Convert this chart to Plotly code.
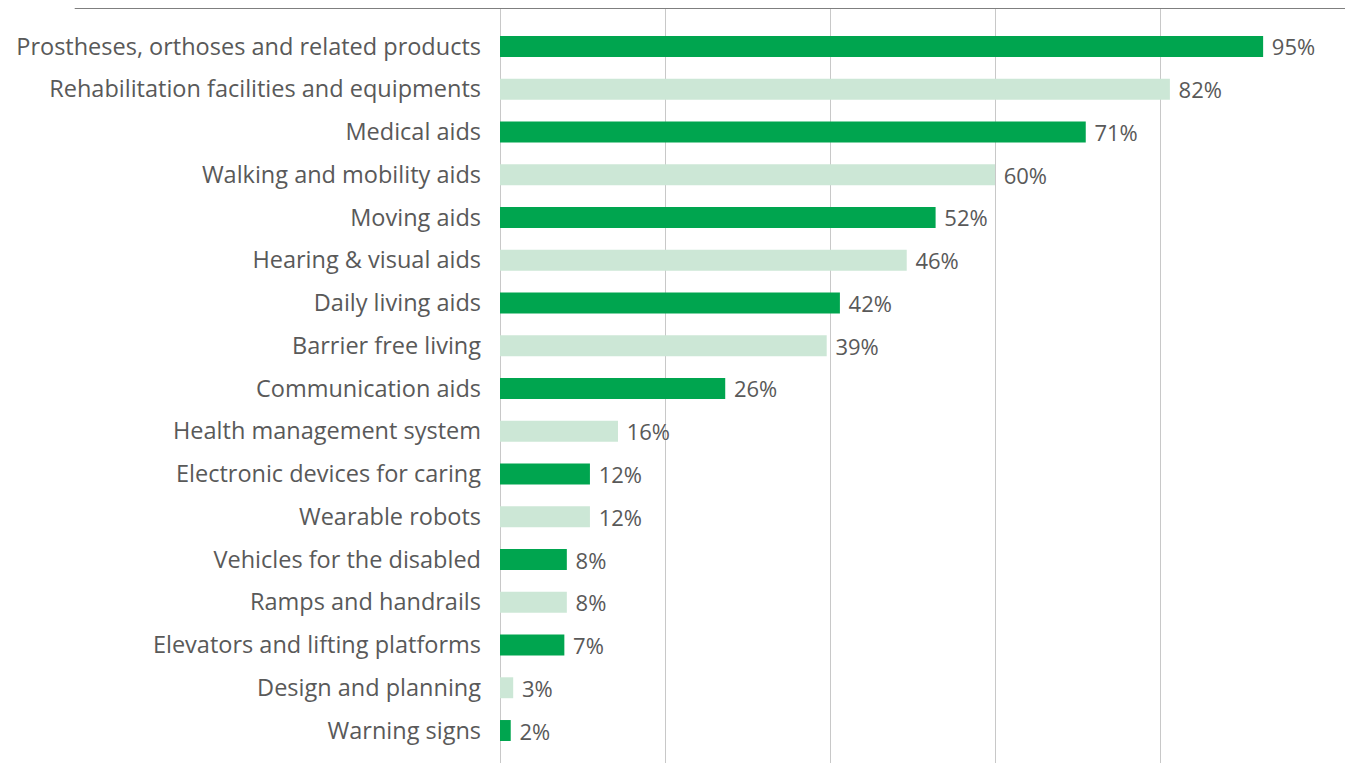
import plotly.graph_objects as go

categories = [
    "Prostheses, orthoses and related products",
    "Rehabilitation facilities and equipments",
    "Medical aids",
    "Walking and mobility aids",
    "Moving aids",
    "Hearing & visual aids",
    "Daily living aids",
    "Barrier free living",
    "Communication aids",
    "Health management system",
    "Electronic devices for caring",
    "Wearable robots",
    "Vehicles for the disabled",
    "Ramps and handrails",
    "Elevators and lifting platforms",
    "Design and planning",
    "Warning signs",
]
# bar lengths as drawn (percent scale)
bar_values = [92.5, 81.2, 71.0, 60.0, 52.8, 49.3, 41.2, 39.6, 27.3, 14.3, 10.9, 10.9, 8.1, 8.1, 7.8, 1.6, 1.3]
# printed labels
value_labels = ["95%", "82%", "71%", "60%", "52%", "46%", "42%", "39%", "26%", "16%",
                "12%", "12%", "8%", "8%", "7%", "3%", "2%"]

DARK = "#00A54F"
LIGHT = "#CCE7D6"
colors = [DARK if i % 2 == 0 else LIGHT for i in range(len(categories))]

fig = go.Figure(
    go.Bar(
        x=bar_values,
        y=categories,
        orientation="h",
        marker=dict(color=colors, line=dict(width=0)),
        text=[" " + t for t in value_labels],
        textposition="outside",
        constraintext="none",
        textfont=dict(family="Open Sans", size=22, color="#595959"),
        outsidetextfont=dict(family="Open Sans", size=22, color="#595959"),
        cliponaxis=False,
        hoverinfo="skip",
    )
)

fig.update_layout(
    width=1345,
    height=755,
    margin=dict(l=492, r=61, t=0, b=0),
    paper_bgcolor="white",
    plot_bgcolor="white",
    bargap=0.51,
    showlegend=False,
    font=dict(family="Open Sans", color="#595959"),
    xaxis=dict(
        range=[0, 96],
        dtick=20,
        showgrid=True,
        gridcolor="#C8C8C8",
        gridwidth=1.3,
        zeroline=True,
        zerolinecolor="#C8C8C8",
        zerolinewidth=1.3,
        showticklabels=False,
        showline=False,
        fixedrange=True,
    ),
    yaxis=dict(
        categoryorder="array",
        categoryarray=categories,
        range=[16.76, -0.9],
        showgrid=False,
        zeroline=False,
        showline=False,
        ticks="",
        ticklabelstandoff=18,
        tickfont=dict(family="Open Sans", size=23.5, color="#595959"),
    ),
    shapes=[
        dict(type="line", xref="paper", yref="paper", x0=-0.537, x1=1.08, y0=1.0, y1=1.0,
             line=dict(color="#7F7F7F", width=2)),
    ],
)

fig.write_html("out.html")
